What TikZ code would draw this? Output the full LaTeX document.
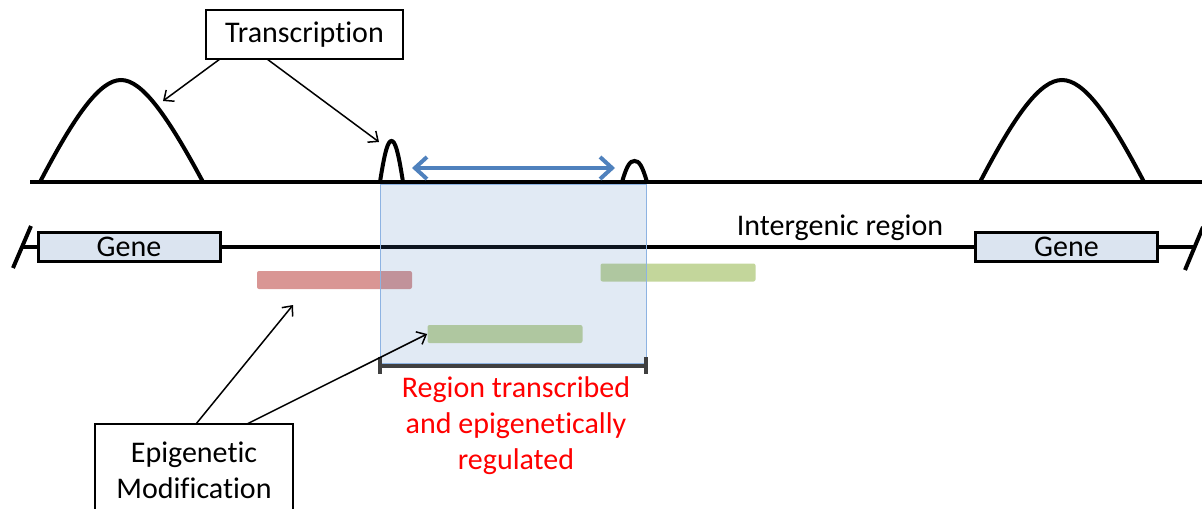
\documentclass[tikz,border=0pt]{standalone}
\usepackage{fontspec}
\setmainfont{Carlito}[Ligatures=NoCommon]
\usetikzlibrary{arrows.meta}
\definecolor{hlblue}{HTML}{4F81BD}
\definecolor{hledge}{HTML}{8DB3E2}
\definecolor{genefill}{HTML}{DBE4F0}
\definecolor{redmod}{HTML}{D99694}
\definecolor{greenmod}{HTML}{C3D69B}
\definecolor{brk}{HTML}{404040}

\begin{document}
\begin{tikzpicture}[x=0.5pt,y=-0.5pt,font=\fontsize{15}{18}\selectfont,
    >={Straight Barb[length=4pt,width=7pt]},
    dna/.style={line width=2pt},
    genebox/.style={draw,line width=1.5pt,fill=genefill,minimum width=91pt,minimum height=14.5pt,inner sep=0pt},
    labelbox/.style={draw,line width=0.75pt,fill=white,align=center},
    modbar/.style={rounded corners=1pt,draw=none,minimum width=77.5pt,minimum height=9pt,inner sep=0pt}]
    \useasboundingbox (0,0) rectangle (1202,508);

    % transcription track
    \draw[dna] (30,182) -- (1202,182);
    \draw[dna] (40,182) .. controls (75,115) and (100,80) .. (121,80) .. controls (142,80) and (167,115) .. (203,182);
    \draw[dna] (980,182) .. controls (1015,115) and (1040,80) .. (1062,80) .. controls (1084,80) and (1109,115) .. (1144,182);
    \draw[dna] (380,182) .. controls (385,150) and (388,141) .. (391.5,141) .. controls (395,141) and (398,150) .. (403,182);
    \draw[dna] (622,182) .. controls (627,165) and (630,161) .. (634.5,161) .. controls (639,161) and (642,165) .. (647,182);

    % genome line
    \node[genebox] (geneL) at (129,247) {Gene};
    \node[genebox] (geneR) at (1066.5,247) {Gene};
    \coordinate (cutL) at (22,247);
    \coordinate (cutR) at (1193,247);
    \draw[dna] (cutL) -- (geneL) -- (geneR) -- (cutR);
    \draw[dna] (13,268) -- (31,226);
    \draw[dna] (1185,270) -- (1203,227);
    \node (inter) at (840,228) {Intergenic region};

    % modifications
    \node[modbar,fill=redmod] (redA) at (334.5,280) {};
    \node[modbar,fill=greenmod] (greenA) at (678,272.5) {};
    \node[modbar,fill=greenmod] (greenB) at (505,334) {};

    % transcribed region
    \draw[hledge,fill=hlblue,fill opacity=0.17,line width=0.5pt] (380,184) rectangle (646,363);
    \coordinate (brkL) at (380,366);
    \coordinate (brkR) at (646,366);
    \draw[brk,line width=1.75pt] (brkL) -- (brkR)
        (brkL) ++(0,-9) -- ++(0,17)
        (brkR) ++(0,-9) -- ++(0,17);
    \coordinate (spanL) at (412,168);
    \coordinate (spanR) at (615,168);
    \draw[hlblue,line width=2pt,<->,>={Straight Barb[length=6pt,width=11pt]}] (spanL) -- (spanR);
    \node[text=red,align=center] (note) at (516,426) {Region transcribed\\and epigenetically\\regulated};

    % labels
    \node[labelbox,minimum width=98.5pt,minimum height=24.5pt] (trans) at (304.5,34.5) {Transcription};
    \node[labelbox,minimum width=99pt,minimum height=46pt] (epi) at (194,470) {Epigenetic\\Modification};
    \coordinate (t1) at (220,59);
    \coordinate (t2) at (267,59);
    \coordinate (humpA) at (163,101);
    \coordinate (humpB) at (379,142);
    \coordinate (e1) at (196,424);
    \coordinate (e2) at (247,424);
    \coordinate (redtip) at (293,305);
    \draw[->,line width=0.75pt] (t1) -- (humpA);
    \draw[->,line width=0.75pt] (t2) -- (humpB);
    \draw[->,line width=0.75pt] (e1) -- (redtip);
    \draw[->,line width=0.75pt] (e2) -- (greenB.west);
\end{tikzpicture}
\end{document}
